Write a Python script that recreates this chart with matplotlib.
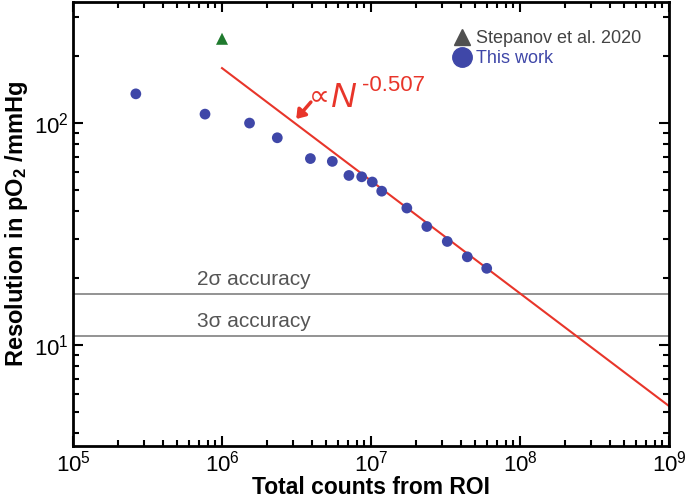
import matplotlib
matplotlib.use('Agg')
import matplotlib.pyplot as plt
from matplotlib.lines import Line2D

plt.rcParams['font.family'] = ['Liberation Sans', 'DejaVu Sans']
plt.rcParams['mathtext.fontset'] = 'custom'
plt.rcParams['mathtext.rm'] = 'Liberation Sans'
plt.rcParams['mathtext.it'] = 'Liberation Sans:italic'
plt.rcParams['mathtext.bf'] = 'Liberation Sans:bold'

# measured points (this work)
counts = [2.64e5, 7.69e5, 1.53e6, 2.35e6, 3.92e6, 5.50e6, 7.11e6, 8.66e6,
          1.02e7, 1.18e7, 1.74e7, 2.37e7, 3.25e7, 4.43e7, 5.98e7]
resolution = [135, 109.4, 99.7, 85.6, 69.0, 67.0, 57.9, 57.1,
              54.1, 49.2, 41.3, 34.1, 29.2, 24.9, 22.1]

# Stepanov et al. 2020
stepanov_x = [1.0e6]
stepanov_y = [239]

# fit line end points (prop. N^-0.507)
fit_x = [1.0e6, 1.0e9]
fit_y = [176.3, 5.30]
fit_exp = '-0.507'

# accuracy thresholds
acc_levels = [17, 11]
acc_labels = ['2σ accuracy', '3σ accuracy']

blue = '#3f47a8'
red = '#e8352a'
green = '#1f7a2e'
grey = '#8a8a8a'

fig = plt.figure(figsize=(6.85, 5.0), dpi=100)
ax = fig.add_axes([0.1066, 0.108, 0.870, 0.888])

for lvl, lab in zip(acc_levels, acc_labels):
    ax.axhline(lvl, color=grey, lw=1.3, zorder=1)
    ax.text(6.8e5, lvl * 1.05, lab, fontsize=15, color='#555555', va='bottom', ha='left')

ax.plot(fit_x, fit_y, color=red, lw=1.5, zorder=2)
ax.scatter(counts, resolution, s=60, color=blue, edgecolors='none', zorder=3)
ax.scatter(stepanov_x, stepanov_y, s=75, marker='^', color=green, edgecolors='none', zorder=3)

# annotation  "∝ N^-0.507"
ax.text(3.85e6, 121, '∝', fontsize=21, color=red, va='baseline',
        family=['DejaVu Sans'])
ax.text(5.4e6, 118, 'N', fontsize=25, color=red, va='baseline', style='italic')
ax.text(8.7e6, 139, fit_exp, fontsize=16, color=red, va='baseline')
ax.annotate('', xy=(3.15e6, 104), xytext=(3.95e6, 124),
            arrowprops=dict(arrowstyle='-|>,head_width=0.35,head_length=0.5',
                            color=red, lw=2.5, shrinkA=0, shrinkB=0))

ax.set_xscale('log')
ax.set_yscale('log')
ax.set_xlim(1e5, 1e9)
ax.set_ylim(3.5, 350)

ax.set_xlabel('Total counts from ROI', fontsize=16.5, fontweight='bold', labelpad=0)
ax.set_ylabel(r'Resolution in pO$_\mathbf{2}$ /mmHg', fontsize=17, fontweight='bold', labelpad=3)

ax.tick_params(which='both', direction='in', top=True, right=True, width=1.5)
ax.tick_params(which='major', length=7, labelsize=16, pad=3)
ax.tick_params(which='minor', length=4)
for sp in ax.spines.values():
    sp.set_linewidth(2)

handles = [
    Line2D([], [], marker='^', color='#505050', ls='none', markersize=12),
    Line2D([], [], marker='o', color=blue, ls='none', markersize=14),
]
leg = ax.legend(handles, ['Stepanov et al. 2020', 'This work'], loc='upper right',
                bbox_to_anchor=(0.975, 0.965), frameon=False, fontsize=13,
                handlelength=0.9, handletextpad=0.35, labelspacing=0.15,
                labelcolor=['#444444', blue], borderaxespad=0.3)

fig.savefig('out.png', dpi=100)
